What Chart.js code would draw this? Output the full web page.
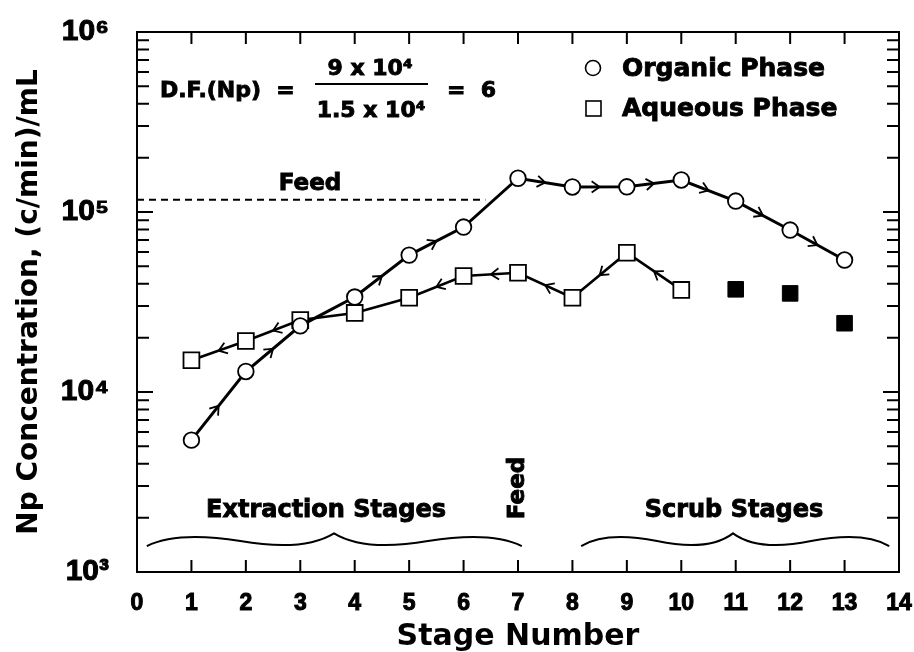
<!DOCTYPE html>
<html><head><meta charset="utf-8">
<script src="https://cdn.jsdelivr.net/npm/chart.js@4.4.0/dist/chart.umd.min.js"></script>
<style>html,body{margin:0;padding:0;background:#fff}#wrap{width:914px;height:652px}</style>
</head><body><div id="wrap"><canvas id="c" width="914" height="652"></canvas></div>
<script>
// ---- data ----
const stages = [1,2,3,4,5,6,7,8,9,10,11,12,13];
const organic = [5400,13000,23300,33700,57600,82500,154000,137700,138000,150600,115000,79400,54100];
const aqueousStages = [1,2,3,4,5,6,7,8,9,10];
const aqueous = [15000,19200,25100,27500,33400,44100,46000,33400,59400,36900];
const aqueousScrubStages = [11,12,13];
const aqueousScrub = [37200,35300,24100];
const feedLevel = 117000;
const feedStages = [0,6.4];
const xTickValues = [0,1,2,3,4,5,6,7,8,9,10,11,12,13,14];
const yDecades = [1e3,1e4,1e5,1e6];
const yTickLabels = ['10³','10⁴','10⁵','10⁶'];
// segments (start index) carrying flow arrows
const organicArrowSegs = [0,1,3,4,6,7,8,9,10,11];
const aqueousArrowSegs = [0,1,4,5,6,7,8];
// braces: [start stage, peak stage, end stage]
const braces = [[0.18,3.62,7.07],[8.16,10.95,13.82]];

const FONT = 'DejaVu Sans';
const NUMFONT = 'Liberation Sans';
const pts = (xs, ys) => xs.map((x,i)=>({x:x, y:ys[i]}));

function chevron(ctx, x, y, ang, s){
  ctx.save(); ctx.translate(x,y); ctx.rotate(ang);
  ctx.beginPath(); ctx.moveTo(-s, -s*0.7); ctx.lineTo(0,0); ctx.lineTo(-s, s*0.7);
  ctx.lineWidth = 1.8; ctx.strokeStyle = '#000'; ctx.stroke(); ctx.restore();
}
function heavyText(ctx, t, x, y){
  ctx.fillText(t, x, y);
  ctx.lineWidth = 0.9; ctx.strokeText(t, x, y);
}

const deco = {
  id:'deco',
  afterDatasetsDraw(chart){
    const ctx = chart.ctx;
    const drawArrows = (dsIndex, segs, reverse) => {
      const meta = chart.getDatasetMeta(dsIndex);
      segs.forEach(i => {
        const a = meta.data[i], b = meta.data[i+1];
        const mx = (a.x+b.x)/2, my = (a.y+b.y)/2;
        let ang = Math.atan2(b.y-a.y, b.x-a.x);
        if (reverse) ang += Math.PI;
        chevron(ctx, mx, my, ang, 8);
      });
    };
    drawArrows(0, organicArrowSegs, false);
    drawArrows(1, aqueousArrowSegs, true);
  },
  afterDraw(chart){
    const ctx = chart.ctx, a = chart.chartArea, xs = chart.scales.x, ys = chart.scales.y;
    ctx.save();
    ctx.strokeStyle = '#000'; ctx.fillStyle = '#000';
    ctx.lineWidth = 2;
    ctx.strokeRect(a.left, a.top, a.right-a.left, a.bottom-a.top);
    // ticks
    ctx.beginPath();
    for (let v = 1; v < 14; v++){
      const px = xs.getPixelForValue(v);
      ctx.moveTo(px, a.bottom); ctx.lineTo(px, a.bottom-12);
      ctx.moveTo(px, a.top); ctx.lineTo(px, a.top+12);
    }
    for (let n = 3; n < 6; n++){
      for (let m = 1; m < 10; m++){
        if (n===3 && m===1) continue;
        const py = ys.getPixelForValue(m*Math.pow(10,n));
        const L = m===1 ? 16 : 12;
        ctx.moveTo(a.left, py); ctx.lineTo(a.left+L, py);
        ctx.moveTo(a.right, py); ctx.lineTo(a.right-L, py);
      }
    }
    ctx.stroke();
    // braces
    const yb = ys.getPixelForValue(1394), yt = ys.getPixelForValue(1585), ypk = ys.getPixelForValue(1640);
    const ym = (yb+yt)/2;
    ctx.lineWidth = 2;
    braces.forEach(([s,p,e]) => {
      const x0 = xs.getPixelForValue(s), xp = xs.getPixelForValue(p), x1 = xs.getPixelForValue(e);
      const w1 = xp-x0, w2 = x1-xp;
      ctx.beginPath();
      ctx.moveTo(x0, yb);
      ctx.bezierCurveTo(x0+0.12*w1, yt-1, x0+0.3*w1, yt-1, x0+0.5*w1, ym);
      ctx.bezierCurveTo(x0+0.7*w1, yb+1.5, x0+0.88*w1, yb+1, xp, ypk);
      ctx.bezierCurveTo(x1-0.88*w2, yb+1, x1-0.7*w2, yb+1.5, x1-0.5*w2, ym);
      ctx.bezierCurveTo(x1-0.3*w2, yt-1, x1-0.12*w2, yt-1, x1, yb);
      ctx.stroke();
    });
    // texts
    ctx.textBaseline = 'middle';
    ctx.font = 'bold 23px "'+FONT+'"';
    ctx.textAlign = 'center';
    heavyText(ctx, 'Feed', 310, 184);
    ctx.font = 'bold 24px "'+FONT+'"';
    heavyText(ctx, 'Extraction Stages', 326, 511);
    heavyText(ctx, 'Scrub Stages', 734, 511);
    ctx.save(); ctx.translate(518, 488); ctx.rotate(-Math.PI/2);
    ctx.font = 'bold 23px "'+FONT+'"'; heavyText(ctx, 'Feed', 0, 0); ctx.restore();
    // D.F. equation
    ctx.font = 'bold 22px "'+FONT+'"';
    ctx.textAlign = 'left';
    heavyText(ctx, 'D.F.(Np)  =', 160, 91);
    ctx.textAlign = 'center';
    heavyText(ctx, '9 x 10⁴', 370, 69);
    heavyText(ctx, '1.5 x 10⁴', 371, 111);
    ctx.beginPath(); ctx.moveTo(315, 84); ctx.lineTo(428, 84); ctx.lineWidth = 2; ctx.stroke();
    ctx.textAlign = 'left';
    heavyText(ctx, '=  6', 447, 91);
    // legend
    ctx.font = 'bold 25px "'+FONT+'"';
    heavyText(ctx, 'Organic Phase', 622, 69);
    heavyText(ctx, 'Aqueous Phase', 622, 109);
    ctx.lineWidth = 1.6;
    ctx.beginPath(); ctx.arc(593, 68, 7.5, 0, Math.PI*2); ctx.fillStyle='#fff'; ctx.fill(); ctx.stroke();
    ctx.fillStyle='#fff'; ctx.fillRect(586, 101, 15, 15); ctx.strokeRect(586, 101, 15, 15);
    ctx.restore();
  }
};

new Chart(document.getElementById('c'), {
  type: 'line',
  data: { datasets: [
    { label:'Organic Phase', data: pts(stages, organic), borderColor:'#000', borderWidth:3,
      pointStyle:'circle', pointRadius:7.8, pointBackgroundColor:'#fff', pointBorderColor:'#000', pointBorderWidth:1.8 },
    { label:'Aqueous Phase', data: pts(aqueousStages, aqueous), borderColor:'#000', borderWidth:2.6,
      pointStyle:'rect', pointRadius:11.2, pointBackgroundColor:'#fff', pointBorderColor:'#000', pointBorderWidth:1.8 },
    { label:'Aqueous Phase (scrub)', data: pts(aqueousScrubStages, aqueousScrub), showLine:false,
      pointStyle:'rect', pointRadius:11, pointBackgroundColor:'#000', pointBorderColor:'#000', pointBorderWidth:1 },
    { label:'Feed', data: feedStages.map(x=>({x:x, y:feedLevel})), borderColor:'#000', borderWidth:2,
      borderDash:[7,5], pointRadius:0 }
  ]},
  options: {
    responsive:false, animation:false, devicePixelRatio:1,
    layout:{ padding:{ top:32, right:15, left:0, bottom:0 } },
    plugins:{ legend:{display:false}, tooltip:{enabled:false} },
    scales:{
      x:{ type:'linear', min:0, max:14,
        afterBuildTicks(s){ s.ticks = xTickValues.map(v=>({value:v})); },
        afterFit(s){ s.height = 80; s.paddingLeft = 0; s.paddingRight = 0; },
        grid:{display:false, drawTicks:false}, border:{display:false},
        ticks:{ color:'#000', font:{family:NUMFONT, weight:'bold', size:23}, padding:18, autoSkip:false, maxRotation:0,
          textStrokeColor:'#000', textStrokeWidth:1 },
        title:{ display:true, text:'Stage Number', color:'#000', font:{family:FONT, weight:'bold', size:30, lineHeight:1.0}, padding:{top:0,bottom:0} }
      },
      y:{ type:'logarithmic', min:1000, max:1e6,
        afterBuildTicks(s){ s.ticks = yDecades.map(v=>({value:v, major:true})); },
        afterFit(s){ s.width = 137; s.paddingTop = 0; s.paddingBottom = 0; },
        grid:{display:false, drawTicks:false}, border:{display:false},
        ticks:{ color:'#000', font:{family:NUMFONT, weight:'bold', size:30}, padding:28, autoSkip:false,
          textStrokeColor:'#000', textStrokeWidth:1,
          callback:(v)=> yTickLabels[Math.round(Math.log10(v))-3] },
        title:{ display:true, text:'Np Concentration, (c/min)/mL', color:'#000', font:{family:FONT, weight:'bold', size:28}, padding:{top:13,bottom:0} }
      }
    }
  },
  plugins:[deco]
});
</script></body></html>
